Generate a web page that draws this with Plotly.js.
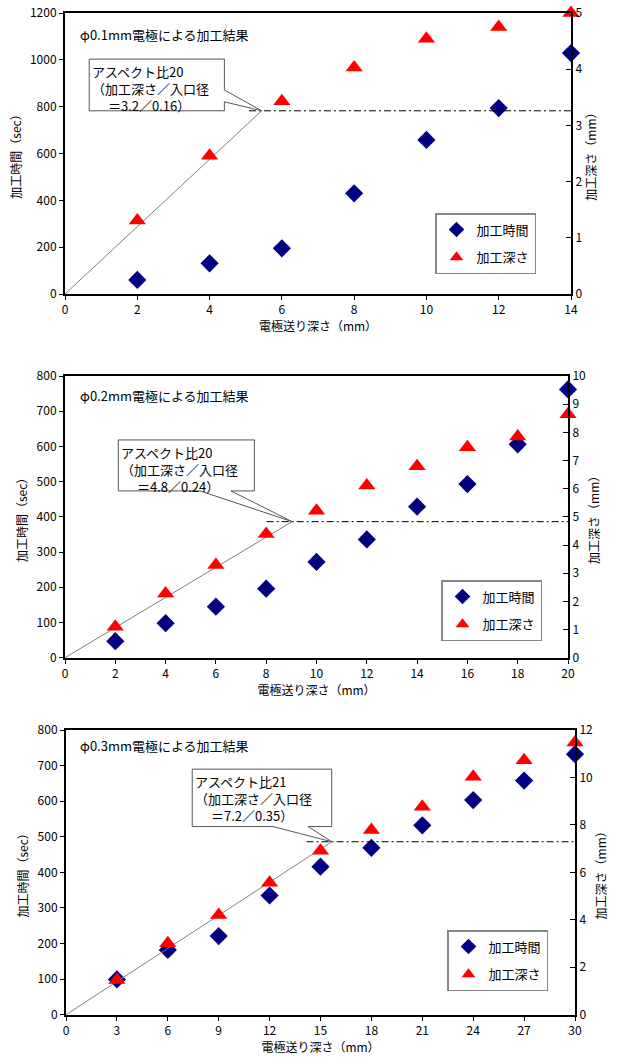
<!DOCTYPE html>
<html>
<head>
<meta charset="utf-8">
<script src="https://cdn.plot.ly/plotly-3.0.1.min.js"></script>
<style>html,body{margin:0;padding:0;background:#fff;}#chart{width:618px;height:1064px;}</style>
</head>
<body>
<div id="chart"></div>
<script>
// ---- data ----
const titles = ['φ0.1mm電極による加工結果', 'φ0.2mm電極による加工結果', 'φ0.3mm電極による加工結果'];
const feed1 = [2, 4, 6, 8, 10, 12, 14];
const time1 = [60, 131, 195, 430, 658, 794, 1029];
const depth1 = [1.31, 2.46, 3.43, 4.03, 4.54, 4.75, 5.0];
const feed2 = [2, 4, 6, 8, 10, 12, 14, 16, 18, 20];
const time2 = [47, 98, 145, 196, 272, 336, 429, 493, 606, 762];
const depth2 = [1.10, 2.28, 3.29, 4.39, 5.22, 6.11, 6.80, 7.47, 7.85, 8.64];
const feed3 = [3, 6, 9, 12, 15, 18, 21, 24, 27, 30];
const time3 = [99, 182, 221, 335, 416, 469, 532, 603, 658, 732];
const depth3 = [1.46, 3.01, 4.20, 5.56, 6.91, 7.78, 8.77, 10.03, 10.73, 11.47];
const aspectLabels = ['アスペクト比20<br>（加工深さ／入口径<br>　 ＝3.2／0.16）',
                      'アスペクト比20<br>（加工深さ／入口径<br>　 ＝4.8／0.24）',
                      'アスペクト比21<br>（加工深さ／入口径<br>　 ＝7.2／0.35）'];
const aspectDepth = [3.26, 4.83, 7.29];
const aspectFeed = [5.44, 9.03, 15.66];
const xTickStep = [2, 2, 3];
const xMax = [14, 20, 30];
const yLeftMax = [1200, 800, 800];
const yLeftStep = [200, 100, 100];
const yRightMax = [5, 10, 12];
const yRightStep = [1, 1, 2];
const nameTime = '加工時間';
const nameDepth = '加工深さ';
const xTitle = '電極送り深さ（mm）';
const yLeftTitle = '加工時間（sec）';
const yRightTitle = '加工深さ（mm）';

// ---- layout config (positions, not data) ----
const FONT = '"Noto Sans CJK JP", "Noto Sans", sans-serif';
const panels = [
  {xd: [65/618, 571/618], yd: [1-294/1064, 1-13/1064], lineStart: 5.09,
   box: {l: 0.67, r: 4.41, t: 4.18, b: 3.26}, tail: {side: 'right', a: 3.63, b: 3.42},
   legend: {x: 435/618, y: 1-213/1064}, title: {x: 0.35, y: 4.62}},
  {xd: [65/618, 568/618], yd: [1-657.7/1064, 1-376/1064], lineStart: 8.02,
   box: {l: 2.12, r: 7.53, t: 7.73, b: 5.92}, tail: {side: 'bottom', a: 5.37, b: 6.60},
   legend: {x: 441/618, y: 1-580/1064}, title: {x: 0.5, y: 9.3}},
  {xd: [66/618, 575/618], yd: [1-1014.7/1064, 1-730/1064], lineStart: 14.18,
   box: {l: 7.44, r: 15.66, t: 10.35, b: 7.93}, tail: {side: 'bottom', a: 12.2, b: 14.27},
   legend: {x: 447/618, y: 1-930/1064}, title: {x: 0.7, y: 11.35}}
];

const feeds = [feed1, feed2, feed3];
const times = [time1, time2, time3];
const depths = [depth1, depth2, depth3];

const traces = [];
const layout = {
  width: 618, height: 1064,
  margin: {l: 0, r: 0, t: 0, b: 0},
  paper_bgcolor: '#fff', plot_bgcolor: '#fff',
  font: {family: FONT, size: 12, color: '#000'},
  showlegend: true,
  shapes: [], annotations: []
};

panels.forEach((p, i) => {
  const xa = i === 0 ? 'x' : 'x' + (i + 1);
  const yl = i === 0 ? 'y' : 'y' + (2 * i + 1);
  const yr = 'y' + (2 * i + 2);
  const xKey = i === 0 ? 'xaxis' : 'xaxis' + (i + 1);
  const ylKey = i === 0 ? 'yaxis' : 'yaxis' + (2 * i + 1);
  const yrKey = 'yaxis' + (2 * i + 2);
  const lg = i === 0 ? 'legend' : 'legend' + (i + 1);

  // diagonal reference line
  traces.push({x: [0, aspectFeed[i]], y: [0, aspectDepth[i]], xaxis: xa, yaxis: yr,
    mode: 'lines', line: {color: '#808080', width: 1}, showlegend: false, hoverinfo: 'skip'});
  // aspect dash-dot line
  traces.push({x: [p.lineStart, xMax[i]], y: [aspectDepth[i], aspectDepth[i]], xaxis: xa, yaxis: yr,
    mode: 'lines', line: {color: '#000', width: 1, dash: '7px,3px,2px,3px'}, showlegend: false, hoverinfo: 'skip'});

  traces.push({x: feeds[i], y: times[i], xaxis: xa, yaxis: yl, name: nameTime,
    mode: 'markers', cliponaxis: false, legend: lg, legendgroup: 'a' + i,
    marker: {symbol: 'diamond', size: 14, color: '#000080'}});
  traces.push({x: feeds[i], y: depths[i], xaxis: xa, yaxis: yr, name: nameDepth,
    mode: 'markers', cliponaxis: false, legend: lg, legendgroup: 'b' + i,
    marker: {symbol: 'triangle-up', size: 15, color: '#ff0000'}});

  layout[xKey] = {domain: p.xd, anchor: yl, range: [0, xMax[i]], dtick: xTickStep[i], tick0: 0,
    showgrid: false, zeroline: false, showline: true, linecolor: '#000', linewidth: 2, mirror: true,
    ticks: 'outside', ticklen: 4, tickcolor: '#000', tickfont: {size: 12, family: FONT},
    title: {text: xTitle, font: {size: 12, family: FONT}, standoff: 4}, automargin: false};
  layout[ylKey] = {domain: p.yd, anchor: xa, range: [0, yLeftMax[i]], dtick: yLeftStep[i], tick0: 0,
    showgrid: false, zeroline: false, showline: true, linecolor: '#000', linewidth: 2,
    ticks: 'outside', ticklen: 4, tickcolor: '#000', tickfont: {size: 12, family: FONT},
    title: {text: yLeftTitle, font: {size: 12, family: FONT}, standoff: 6}, automargin: false};
  layout[yrKey] = {domain: p.yd, anchor: xa, overlaying: yl, side: 'right', range: [0, yRightMax[i]],
    dtick: yRightStep[i], tick0: 0, showgrid: false, zeroline: false, showline: true, linecolor: '#000',
    linewidth: 2, ticks: 'inside', ticklen: 5, tickcolor: '#000', tickfont: {size: 12, family: FONT},
    title: {text: yRightTitle, font: {size: 12, family: FONT}, standoff: 6}, automargin: false};

  layout[lg] = {x: p.legend.x, y: p.legend.y, xanchor: 'left', yanchor: 'top',
    bgcolor: '#fff', bordercolor: '#888', borderwidth: 1.5, font: {size: 13, family: FONT},
    traceorder: 'grouped', tracegroupgap: 8, itemwidth: 30, itemsizing: 'constant'};

  // callout box
  const b = p.box, t = p.tail;
  let path;
  if (t.side === 'right') {
    path = `M${b.l},${b.t} L${b.r},${b.t} L${b.r},${t.a} L${aspectFeed[i]},${aspectDepth[i]} L${b.r},${t.b} L${b.r},${b.b} L${b.l},${b.b} Z`;
  } else {
    path = `M${b.l},${b.t} L${b.r},${b.t} L${b.r},${b.b} L${t.b},${b.b} L${aspectFeed[i]},${aspectDepth[i]} L${t.a},${b.b} L${b.l},${b.b} Z`;
  }
  layout.shapes.push({type: 'path', xref: xa, yref: yr, path: path,
    fillcolor: '#fff', line: {color: '#555', width: 1}, layer: 'above'});
  layout.annotations.push({xref: xa, yref: yr, x: b.l, y: b.t, xanchor: 'left', yanchor: 'top',
    xshift: 1, yshift: -1, align: 'left', showarrow: false, text: aspectLabels[i],
    font: {size: 13, family: FONT, color: '#000'}});
  layout.annotations.push({xref: xa, yref: yr, x: p.title.x, y: p.title.y, xanchor: 'left', yanchor: 'middle',
    showarrow: false, text: titles[i], font: {size: 13, family: FONT, color: '#000'}});
});

Plotly.newPlot('chart', traces, layout, {displayModeBar: false, staticPlot: true});
</script>
</body>
</html>
